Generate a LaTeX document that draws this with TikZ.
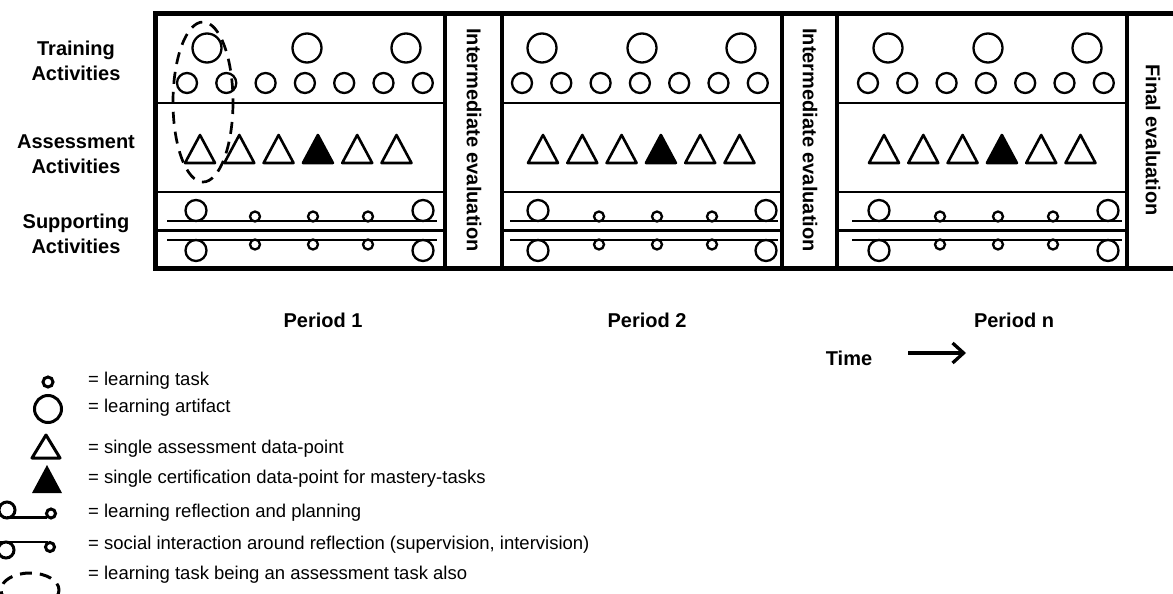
\documentclass[tikz,border=0pt]{standalone}
\usepackage{fontspec}
\setmainfont{Liberation Sans}
\usetikzlibrary{arrows.meta}

\begin{document}
\begin{tikzpicture}[x=1pt,y=-1pt,
  lbl/.style={font=\bfseries\fontsize{20}{25}\selectfont,align=center,inner sep=0pt},
  vlbl/.style={font=\bfseries\fontsize{20}{24}\selectfont,rotate=-90,inner sep=0pt},
  key/.style={font=\fontsize{18.5}{22}\selectfont,anchor=west,inner sep=0pt},
  sym/.style={line width=2.3pt},
  tri/.style={line width=2.6pt,line join=round}]
\useasboundingbox (0,0) rectangle (1173,594);
\clip (0,0) rectangle (1173,594);
% frame and columns
\draw[line width=5pt] (1190,14) -- (155,14) -- (155,268) -- (1190,268);
\foreach \xx in {445,502,782,837,1127} \draw[line width=4pt] (\xx,14) -- (\xx,268);
% periods: left/right/first task/first triangle/artifacts/first small/line
\foreach \L/\R/\s/\t/\ba/\bb/\m/\la/\lb in {158/445/187/200/196/423/255/167/437,
    502/782/522/543/538/766/599/510/778,
    837/1127/868/884/879/1108/940/852/1122} {
  \foreach \yy/\w in {103/2.5pt,192/2.5pt,230/3pt} \draw[line width=\w] (\L,\yy) -- (\R,\yy);
  \foreach \i in {0,...,6} \draw[sym] (\s+39.3*\i,83) circle (10);
  \foreach \d in {20,120,219} \draw[sym] (\s+\d,48) circle (14.5);
  \foreach \i/\c in {0/white,1/white,2/white,3/black,4/white,5/white}
    \draw[tri,fill=\c] (\t+39.3*\i-15,163) -- ++(30,0) -- ++(-15,-28) -- cycle;
  \draw[line width=2.5pt] (\la,221) -- (\lb,221);
  \draw[line width=2.5pt] (\la,240) -- (\lb,240);
  \foreach \b in {\ba,\bb} {
    \draw[sym] (\b,210.5) circle (10.5);
    \draw[sym] (\b,250.5) circle (10.5);
  }
  \foreach \d in {0,58,113} {
    \draw[sym] (\m+\d,216.5) circle (5);
    \draw[sym] (\m+\d,244.5) circle (5);
  }
}
\draw[line width=2.7pt,dash pattern=on 12pt off 8pt] (203,102) ellipse [x radius=30,y radius=80];
% labels
\node[lbl] (train) at (76,61) {Training\\Activities};
\node[lbl] (assess) at (76,154) {Assessment\\Activities};
\node[lbl] (support) at (76,234) {Supporting\\Activities};
\node[vlbl] (inter1) at (474,140) {Intermediate evaluation};
\node[vlbl] (inter2) at (810,140) {Intermediate evaluation};
\node[vlbl] (final) at (1153,140) {Final evaluation};
\node[lbl] (per1) at (323,320) {Period 1};
\node[lbl] (per2) at (647,320) {Period 2};
\node[lbl] (pern) at (1014,320) {Period n};
\node[lbl] (time) at (849,358) {Time};
\coordinate (arrS) at (908,353);
\coordinate (arrE) at (966,353);
\draw[line width=3.3pt,-{Straight Barb[length=11pt,width=20pt]}] (arrS) -- (arrE);
% legend
\draw[line width=3pt] (48,382) circle (5);
\draw[line width=3pt] (48,409) circle (13.5);
\draw[line width=3pt,line join=round] (32,458) -- (60,458) -- (46,435) -- cycle;
\fill (32,493) -- (62,493) -- (47,465) -- cycle;
\draw[line width=3pt] (7,510) circle (8);
\draw[line width=2.5pt] (7,517.5) -- (47,517.5);
\draw[line width=3pt] (51,513.5) circle (4.5);
\draw[line width=2.5pt] (0,542) -- (48,542);
\draw[line width=3pt] (6,550) circle (8);
\draw[line width=3pt] (50,547) circle (4.5);
\draw[line width=3pt,dash pattern=on 12pt off 8pt] (30,590) ellipse [x radius=29,y radius=17];
\node[key] (ktask) at (88,381) {= learning task};
\node[key] (kartifact) at (88,408) {= learning artifact};
\node[key] (kassess) at (88,449) {= single assessment data-point};
\node[key] (kcert) at (88,479) {= single certification data-point for mastery-tasks};
\node[key] (kreflect) at (88,513) {= learning reflection and planning};
\node[key] (ksocial) at (88,545) {= social interaction around reflection (supervision, intervision)};
\node[key] (kdual) at (88,575) {= learning task being an assessment task also};
\end{tikzpicture}
\end{document}
